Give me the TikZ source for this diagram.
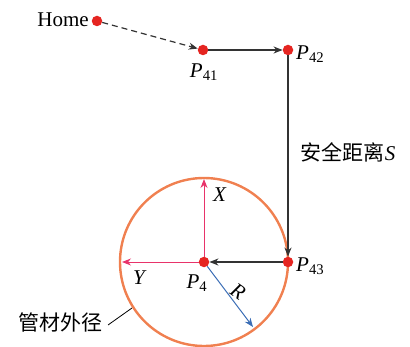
\documentclass[tikz,border=0pt]{standalone}
\usepackage{fontspec}
\setmainfont{Liberation Serif}
\newfontfamily\cjk{Noto Sans CJK SC}
\usetikzlibrary{arrows.meta}
\definecolor{dotred}{HTML}{E52521}
\definecolor{ringor}{HTML}{F08050}
\definecolor{axpink}{HTML}{E8336A}
\definecolor{rblue}{HTML}{3A6DB5}
\definecolor{lgray}{HTML}{333333}
\begin{document}
\begin{tikzpicture}[x=1pt,y=1pt,
  pt/.style={circle,fill=dotred,inner sep=0pt,minimum size=10.5pt},
  lbl/.style={inner sep=0pt,font=\fontsize{21}{24}\selectfont},
  tip/.style={-{Stealth[length=9pt,width=7pt]}},
  flow/.style={tip,lgray,line width=1.2pt}]
\useasboundingbox (0,0) rectangle (410,346);
\draw[ringor,line width=2.4pt] (204,84) circle (84);
\coordinate (xt) at (204,167);
\coordinate (yt) at (122,84);
\coordinate (rt) at (253,19);
\coordinate (la) at (108,21);
\coordinate (lb) at (132,38);
\node[pt] (home) at (97,325) {};
\node[pt] (p41) at (203,296) {};
\node[pt] (p42) at (288,296) {};
\node[pt] (p43) at (288,84) {};
\node[pt] (p4) at (204,84) {};
\draw[axpink,line width=1pt,tip] (p4) -- (xt);
\draw[axpink,line width=1pt,tip] (p4) -- (yt);
\draw[rblue,line width=1pt,tip] (p4) -- (rt);
\draw[flow,dash pattern=on 6pt off 4pt] (home) -- (p41);
\draw[flow] (p41) -- (p42);
\draw[flow] (p42) -- (p43);
\draw[flow] (p43) -- (p4);
\draw[black,line width=0.8pt] (la) -- (lb);
\node[lbl,anchor=east] (thome) at (89,326) {Home};
\node[lbl] (tp41) at (204,274) {\textit{P}\textsubscript{41}};
\node[lbl,anchor=west] (tp42) at (296,292) {\textit{P}\textsubscript{42}};
\node[lbl,anchor=west] (tp43) at (296,80) {\textit{P}\textsubscript{43}};
\node[lbl] (tp4) at (197,63) {\textit{P}\textsubscript{4}};
\node[lbl] (tx) at (220,151) {\textit{X}};
\node[lbl] (ty) at (140,68) {\textit{Y}};
\node[lbl,rotate=-35] (tr) at (238,54) {\textit{R}};
\node[lbl] (tpipe) at (61,24) {\cjk 管材外径};
\node[lbl] (tsafe) at (348,194) {{\cjk 安全距离}\textit{S}};
\end{tikzpicture}
\end{document}
